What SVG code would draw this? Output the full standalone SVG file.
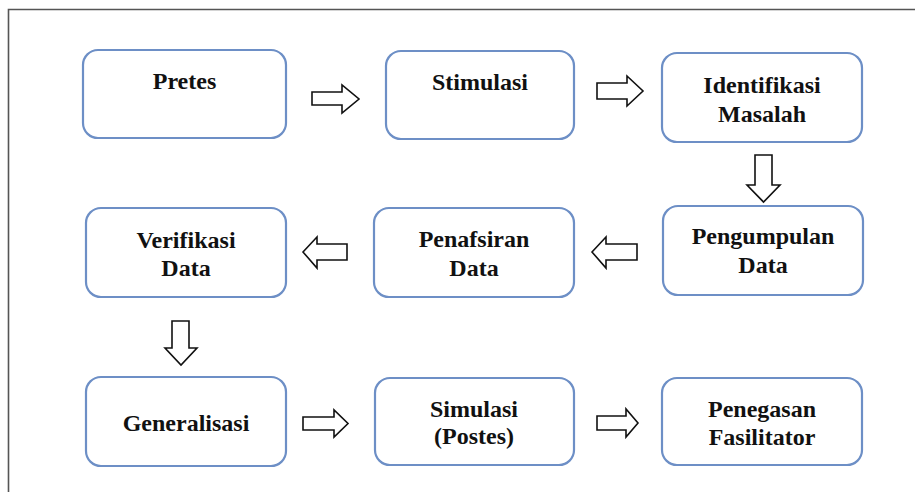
<svg xmlns="http://www.w3.org/2000/svg" width="915" height="492" viewBox="0 0 915 492">
<style>
.box{fill:#fff;stroke:#6d8fc6;stroke-width:2.2}
.lbl{font-family:'Liberation Serif',Tinos,'Times New Roman',Times,serif;font-weight:700;font-size:24px;fill:#111;text-anchor:middle}
.arr{fill:#fff;stroke:#111;stroke-width:1.6;stroke-linejoin:miter}
</style>
<rect width="915" height="492" fill="#fff"/>
<path d="M8.5,492 V9.5 H915" fill="none" stroke="#555" stroke-width="1.6"/>
<g id="pretes"><rect class="box" x="83" y="50" width="203" height="88" rx="15"/><text class="lbl" x="184.5" y="89">Pretes</text></g>
<g id="stimulasi"><rect class="box" x="386" y="51" width="188" height="88" rx="15"/><text class="lbl" x="480" y="90">Stimulasi</text></g>
<g id="identifikasi"><rect class="box" x="662" y="53" width="200" height="89" rx="15"/><text class="lbl" x="762" y="93">Identifikasi</text><text class="lbl" x="762" y="122">Masalah</text></g>
<g id="pengumpulan"><rect class="box" x="663" y="206" width="200" height="89" rx="15"/><text class="lbl" x="763" y="244">Pengumpulan</text><text class="lbl" x="763" y="273">Data</text></g>
<g id="penafsiran"><rect class="box" x="374" y="208" width="200" height="89" rx="15"/><text class="lbl" x="474" y="247">Penafsiran</text><text class="lbl" x="474" y="276">Data</text></g>
<g id="verifikasi"><rect class="box" x="86" y="208" width="200" height="89" rx="15"/><text class="lbl" x="186" y="248">Verifikasi</text><text class="lbl" x="186" y="276">Data</text></g>
<g id="generalisasi"><rect class="box" x="86" y="377" width="200" height="89" rx="15"/><text class="lbl" x="186" y="431">Generalisasi</text></g>
<g id="simulasi"><rect class="box" x="375" y="378" width="199" height="87" rx="15"/><text class="lbl" x="474" y="417">Simulasi</text><text class="lbl" x="474" y="444">(Postes)</text></g>
<g id="penegasan"><rect class="box" x="662" y="378" width="200" height="87" rx="15"/><text class="lbl" x="762" y="417">Penegasan</text><text class="lbl" x="762" y="445">Fasilitator</text></g>
<g id="connectors">
<polygon class="arr" points="312,92 342,92 342,85 359,99 342,113 342,105 312,105"/>
<polygon class="arr" points="597,83 627,83 627,76 643,91 627,106 627,99 597,99"/>
<polygon class="arr" points="755,155 772,155 772,185 780,185 763.5,202 747,185 755,185"/>
<polygon class="arr" points="592,252 606,237 606,244 637,244 637,260 606,260 606,268"/>
<polygon class="arr" points="303,252 317,237 317,244 347,244 347,260 317,260 317,268"/>
<polygon class="arr" points="172,321 189,321 189,348 197,348 181,365 165,348 172,348"/>
<polygon class="arr" points="303,417 334,417 334,410 348,423.5 334,437 334,430 303,430"/>
<polygon class="arr" points="597,416 626,416 626,409 638,423 626,437 626,430 597,430"/>
</g>
</svg>
